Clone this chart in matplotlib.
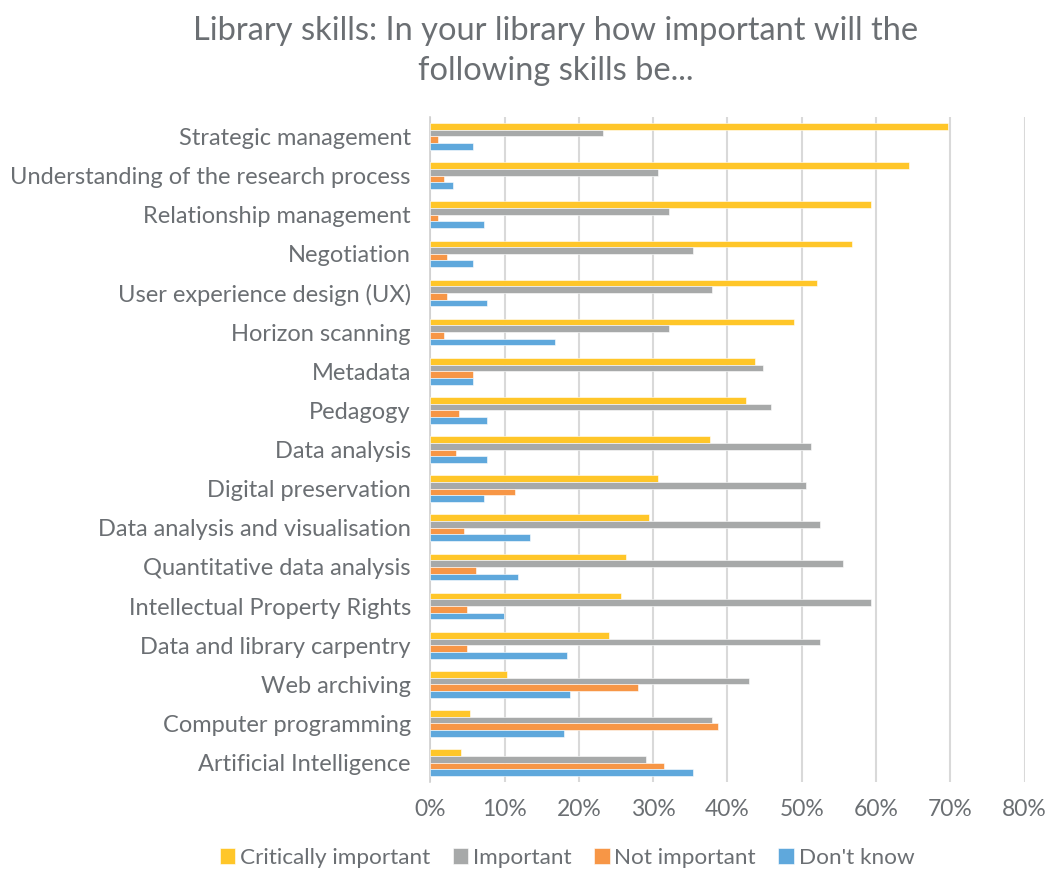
import numpy as np
import matplotlib.pyplot as plt

skills = [
    "Strategic management",
    "Understanding of the research process",
    "Relationship management",
    "Negotiation",
    "User experience design (UX)",
    "Horizon scanning",
    "Metadata",
    "Pedagogy",
    "Data analysis",
    "Digital preservation",
    "Data analysis and visualisation",
    "Quantitative data analysis",
    "Intellectual Property Rights",
    "Data and library carpentry",
    "Web archiving",
    "Computer programming",
    "Artificial Intelligence",
]

critically_important = [69.7, 64.4, 59.3, 56.7, 52.1, 49.0, 43.7, 42.5, 37.6, 30.7,
                        29.4, 26.4, 25.7, 24.1, 10.3, 5.3, 4.2]
important = [23.3, 30.7, 32.1, 35.3, 37.9, 32.1, 44.8, 45.9, 51.3, 50.6,
             52.5, 55.6, 59.3, 52.5, 42.9, 37.9, 29.1]
not_important = [1.1, 1.9, 1.1, 2.3, 2.3, 1.9, 5.7, 3.8, 3.4, 11.4,
                 4.5, 6.1, 5.0, 5.0, 27.9, 38.7, 31.4]
dont_know = [5.7, 3.0, 7.2, 5.7, 7.6, 16.8, 5.7, 7.6, 7.6, 7.2,
             13.4, 11.8, 9.9, 18.4, 18.8, 18.0, 35.3]

series = [
    ("Critically important", critically_important, "#FFC629"),
    ("Important", important, "#A7A9A9"),
    ("Not important", not_important, "#F79646"),
    ("Don't know", dont_know, "#5FA8DC"),
]

text_color = "#6b6f73"
plt.rcParams['font.family'] = ['Lato', 'DejaVu Sans']

fig = plt.figure(figsize=(10.52, 8.72), dpi=100)
ax = fig.add_axes([0.409, 0.103, 0.565, 0.763])

n = len(skills)
y = np.arange(n)
bar_h = 0.17
for i, (name, vals, color) in enumerate(series):
    offset = (i - 1.5) * bar_h
    ax.barh(y + offset, vals, height=bar_h, color=color, label=name,
            edgecolor="white", linewidth=0.4, zorder=3)

ax.set_ylim(n - 0.5, -0.5)
ax.set_xlim(0, 80)
ax.set_yticks(y)
ax.set_yticklabels(skills, fontsize=17, color=text_color)
ax.set_xticks(np.arange(0, 81, 10))
ax.set_xticklabels([f"{v}%" for v in range(0, 81, 10)], fontsize=16.5, color=text_color)
ax.tick_params(axis="both", length=0)
ax.tick_params(axis="y", pad=14)
ax.tick_params(axis="x", pad=12)

ax.grid(axis="x", color="#d9d9d9", linewidth=1.5, zorder=0)
for side in ["top", "right", "bottom"]:
    ax.spines[side].set_visible(False)
ax.spines["left"].set_color("#d0d0d0")
ax.spines["left"].set_linewidth(1.2)

fig.suptitle("Library skills: In your library how important will the\nfollowing skills be...",
             fontsize=23.5, color=text_color, x=0.528, y=0.982, linespacing=1.45)

leg = fig.legend(loc="center", bbox_to_anchor=(0.539, 0.016), ncol=4, frameon=False,
                 fontsize=16.2, handlelength=0.7, handleheight=0.7, handletextpad=0.2,
                 columnspacing=1.0)
for t in leg.get_texts():
    t.set_color(text_color)

fig.savefig("out.png", dpi=100)
